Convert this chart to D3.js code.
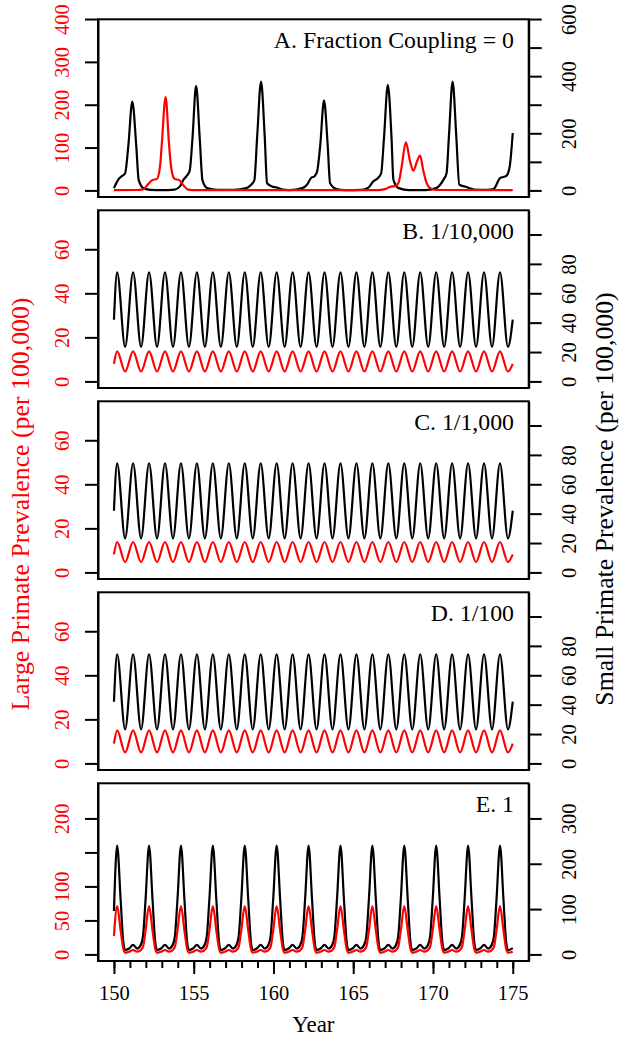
<!DOCTYPE html>
<html><head><meta charset="utf-8">
<script src="https://cdnjs.cloudflare.com/ajax/libs/d3/7.8.5/d3.min.js"></script>
<style>body{margin:0;background:#fff} svg text{font-family:"Liberation Serif","Times New Roman",serif}</style>
</head><body><svg id="c" width="619" height="1040"></svg>
<script>
// ---------- DATA ----------
const panelTitles = ["A. Fraction Coupling = 0", "B. 1/10,000", "C. 1/1,000", "D. 1/100", "E. 1"];
const leftYlimMax = [384, 74.7, 74.7, 74.7, 242];
const rightYlimMax = [576, 112, 112, 112, 363];
const leftTicks = [[0,100,200,300,400],[0,20,40,60],[0,20,40,60],[0,20,40,60],[0,50,100,150,200]];
const leftLabels = [[0,100,200,300,400],[0,20,40,60],[0,20,40,60],[0,20,40,60],[0,50,100,200]];
const rightTicks = [[0,100,200,300,400,500,600],[0,20,40,60,80,100],[0,20,40,60,80,100],[0,20,40,60,80,100],[0,100,200,300]];
const rightLabels = [[0,200,400,600],[0,20,40,60,80],[0,20,40,60,80],[0,20,40,60,80],[0,100,200,300]];
const xMajorTicks = [150,155,160,165,170,175];
const xMinorTicks = [150,151,152,153,154,155,156,157,158,159,160,161,162,163,164,165,166,167,168,169,170,171,172,173,174,175];

// Panel A: [year, prevalence]
const aSmall = [[150.0,8],[150.3,40],[150.5,50],[150.7,60],[150.9,155],[151.15,311],[151.4,155],[151.55,37],[151.85,8],[152.3,2],[153.0,1],[153.8,3],
 [154.15,15],[154.35,37],[154.55,50],[154.75,70],[154.92,180],[155.15,366],[155.38,180],[155.55,35],[155.85,8],[156.5,2],[157.5,2],
 [158.3,8],[158.6,20],[158.8,35],[158.98,190],[159.22,381],[159.45,190],[159.6,25],[159.9,14],[160.2,10],[160.5,4],[161.0,1],
 [161.8,8],[162.1,20],[162.35,43],[162.6,51],[162.75,70],[162.93,157],[163.17,315],[163.4,157],[163.55,25],[163.95,5],[164.5,1],[165.5,2],
 [165.95,10],[166.25,31],[166.55,43],[166.75,60],[166.93,185],[167.17,370],[167.4,185],[167.52,37],[167.85,8],[168.5,1],[169.5,1],
 [170.2,8],[170.45,20],[170.65,37],[170.85,60],[171.0,190],[171.23,381],[171.46,190],[171.65,20],[172.1,12],[172.6,3],[173.4,2],
 [173.8,5],[174.2,43],[174.6,51],[174.8,80],[175.0,201]];
const aLarge = [[150.0,0.5],[151.5,1],[151.85,3],[152.15,15],[152.4,24],[152.7,27],[152.9,60],[153.0,109],[153.24,218],[153.45,109],[153.6,50],
 [153.8,27],[154.1,24],[154.35,12],[154.65,2],[155.2,0.5],[166.5,0.5],[167.0,3],[167.35,9],[167.6,10],[167.83,17],[168.04,56],[168.3,113],
 [168.55,70],[168.77,46],[169.0,68],[169.19,81],[169.4,45],[169.6,17],[169.8,6],[170.2,1],[175.0,0.5]];

// Panels B-D: times of turning points
const sTime = [150.0,
 150.2,150.7,151.2,151.7,152.2,152.7,153.2,153.7,154.2,154.7,
 155.2,155.7,156.2,156.7,157.2,157.7,158.2,158.7,159.2,159.7,
 160.2,160.7,161.2,161.7,162.2,162.7,163.2,163.7,164.2,164.7,
 165.2,165.7,166.2,166.7,167.2,167.7,168.2,168.7,169.2,169.7,
 170.2,170.7,171.2,171.7,172.2,172.7,173.2,173.7,174.2,174.7,
 175.0];
const bSmall = [42,
 74.3,23.5,74.3,23.5,74.3,23.5,74.3,23.5,74.3,23.5,
 74.3,23.5,74.3,23.5,74.3,23.5,74.3,23.5,74.3,23.5,
 74.3,23.5,74.3,23.5,74.3,23.5,74.3,23.5,74.3,23.5,
 74.3,23.5,74.3,23.5,74.3,23.5,74.3,23.5,74.3,23.5,
 74.3,23.5,74.3,23.5,74.3,23.5,74.3,23.5,74.3,23.5,
 42];
const bLarge = [8,
 13.6,4.5,13.6,4.5,13.6,4.5,13.6,4.5,13.6,4.5,
 13.6,4.5,13.6,4.5,13.6,4.5,13.6,4.5,13.6,4.5,
 13.6,4.5,13.6,4.5,13.6,4.5,13.6,4.5,13.6,4.5,
 13.6,4.5,13.6,4.5,13.6,4.5,13.6,4.5,13.6,4.5,
 13.6,4.5,13.6,4.5,13.6,4.5,13.6,4.5,13.6,4.5,
 8];
const cSmall = [42,
 74.3,23.2,74.3,23.2,74.3,23.2,74.3,23.2,74.3,23.2,
 74.3,23.2,74.3,23.2,74.3,23.2,74.3,23.2,74.3,23.2,
 74.3,23.2,74.3,23.2,74.3,23.2,74.3,23.2,74.3,23.2,
 74.3,23.2,74.3,23.2,74.3,23.2,74.3,23.2,74.3,23.2,
 74.3,23.2,74.3,23.2,74.3,23.2,74.3,23.2,74.3,23.2,
 42];
const cLarge = [8.2,
 13.8,4.7,13.8,4.7,13.8,4.7,13.8,4.7,13.8,4.7,
 13.8,4.7,13.8,4.7,13.8,4.7,13.8,4.7,13.8,4.7,
 13.8,4.7,13.8,4.7,13.8,4.7,13.8,4.7,13.8,4.7,
 13.8,4.7,13.8,4.7,13.8,4.7,13.8,4.7,13.8,4.7,
 13.8,4.7,13.8,4.7,13.8,4.7,13.8,4.7,13.8,4.7,
 8.2];
const dSmall = [42,
 74.3,23.2,74.3,23.2,74.3,23.2,74.3,23.2,74.3,23.2,
 74.3,23.2,74.3,23.2,74.3,23.2,74.3,23.2,74.3,23.2,
 74.3,23.2,74.3,23.2,74.3,23.2,74.3,23.2,74.3,23.2,
 74.3,23.2,74.3,23.2,74.3,23.2,74.3,23.2,74.3,23.2,
 74.3,23.2,74.3,23.2,74.3,23.2,74.3,23.2,74.3,23.2,
 42];
const dLarge = [9,
 15,5,15,5,15,5,15,5,15,5,
 15,5,15,5,15,5,15,5,15,5,
 15,5,15,5,15,5,15,5,15,5,
 15,5,15,5,15,5,15,5,15,5,
 15,5,15,5,15,5,15,5,15,5,
 9];

// Panel E
const eTime = [150.0,
 150.2,150.42,150.58,150.7,150.95,151.2,151.45,151.67,151.82,151.98,
 152.2,152.42,152.58,152.7,152.95,153.2,153.45,153.67,153.82,153.98,
 154.2,154.42,154.58,154.7,154.95,155.2,155.45,155.67,155.82,155.98,
 156.2,156.42,156.58,156.7,156.95,157.2,157.45,157.67,157.82,157.98,
 158.2,158.42,158.58,158.7,158.95,159.2,159.45,159.67,159.82,159.98,
 160.2,160.42,160.58,160.7,160.95,161.2,161.45,161.67,161.82,161.98,
 162.2,162.42,162.58,162.7,162.95,163.2,163.45,163.67,163.82,163.98,
 164.2,164.42,164.58,164.7,164.95,165.2,165.45,165.67,165.82,165.98,
 166.2,166.42,166.58,166.7,166.95,167.2,167.45,167.67,167.82,167.98,
 168.2,168.42,168.58,168.7,168.95,169.2,169.45,169.67,169.82,169.98,
 170.2,170.42,170.58,170.7,170.95,171.2,171.45,171.67,171.82,171.98,
 172.2,172.42,172.58,172.7,172.95,173.2,173.45,173.67,173.82,173.98,
 174.2,174.42,174.58,174.7,175.0];
const eSmall = [95.6,
 240,120,30,9.5,13,21,13,20,40,120,
 240,120,30,9.5,13,21,13,20,40,120,
 240,120,30,9.5,13,21,13,20,40,120,
 240,120,30,9.5,13,21,13,20,40,120,
 240,120,30,9.5,13,21,13,20,40,120,
 240,120,30,9.5,13,21,13,20,40,120,
 240,120,30,9.5,13,21,13,20,40,120,
 240,120,30,9.5,13,21,13,20,40,120,
 240,120,30,9.5,13,21,13,20,40,120,
 240,120,30,9.5,13,21,13,20,40,120,
 240,120,30,9.5,13,21,13,20,40,120,
 240,120,30,9.5,13,21,13,20,40,120,
 240,120,30,9.5,14];
const eLarge = [27,
 71,35,9,2.5,4,6.5,4,6,11,35,
 71,35,9,2.5,4,6.5,4,6,11,35,
 71,35,9,2.5,4,6.5,4,6,11,35,
 71,35,9,2.5,4,6.5,4,6,11,35,
 71,35,9,2.5,4,6.5,4,6,11,35,
 71,35,9,2.5,4,6.5,4,6,11,35,
 71,35,9,2.5,4,6.5,4,6,11,35,
 71,35,9,2.5,4,6.5,4,6,11,35,
 71,35,9,2.5,4,6.5,4,6,11,35,
 71,35,9,2.5,4,6.5,4,6,11,35,
 71,35,9,2.5,4,6.5,4,6,11,35,
 71,35,9,2.5,4,6.5,4,6,11,35,
 71,35,9,2.5,4];

// ---------- BUILD ----------
const zip = (t, v) => t.map((d, i) => [d, v[i]]);
const smallSeries = [aSmall, zip(sTime, bSmall), zip(sTime, cSmall), zip(sTime, dSmall), zip(eTime, eSmall)];
const largeSeries = [aLarge, zip(sTime, bLarge), zip(sTime, cLarge), zip(sTime, dLarge), zip(eTime, eLarge)];

const svg = d3.select("#c");
const X0 = 98, X1 = 528.7;
const PANEL_TOP = 19.3, PANEL_PITCH = 191, PH = 177.7;
const RED = "#ff0000";
const x = d3.scaleLinear().domain([149, 176]).range([X0, X1]);

panelTitles.forEach((title, i) => {
  const top = PANEL_TOP + i * PANEL_PITCH, bot = top + PH;
  const lm = leftYlimMax[i], rm = rightYlimMax[i];
  const yL = d3.scaleLinear().domain([-0.04 * lm, 1.04 * lm]).range([bot, top]);
  const yR = d3.scaleLinear().domain([-0.04 * rm, 1.04 * rm]).range([bot, top]);
  const g = svg.append("g");

  g.append("path").datum(smallSeries[i])
    .attr("d", d3.line().x(d => x(d[0])).y(d => yR(d[1])).curve(d3.curveMonotoneX))
    .attr("fill", "none").attr("stroke", "#000").attr("stroke-width", 2.2);
  g.append("path").datum(largeSeries[i])
    .attr("d", d3.line().x(d => x(d[0])).y(d => yL(d[1])).curve(d3.curveMonotoneX))
    .attr("fill", "none").attr("stroke", RED).attr("stroke-width", 2.2);

  g.append("rect").attr("x", X0).attr("y", top).attr("width", X1 - X0).attr("height", PH)
    .attr("fill", "none").attr("stroke", "#000").attr("stroke-width", 2);

  const la = g.append("g").attr("transform", `translate(${X0},0)`)
    .call(d3.axisLeft(yL).tickValues(leftTicks[i]).tickSize(13).tickSizeOuter(0)
      .tickFormat(d => leftLabels[i].includes(d) ? d : ""));
  la.selectAll("line").attr("stroke-width", 2);
  la.select(".domain").attr("stroke-width", 2);
  la.selectAll("text").attr("transform", "rotate(-90)").attr("x", 0).attr("y", -29.5).attr("dy", 0)
    .attr("text-anchor", "middle").attr("fill", RED).style("font-size", "20.5px")
    .style("font-family", '"Liberation Serif", serif');

  const ra = g.append("g").attr("transform", `translate(${X1},0)`)
    .call(d3.axisRight(yR).tickValues(rightTicks[i]).tickSize(13).tickSizeOuter(0)
      .tickFormat(d => rightLabels[i].includes(d) ? d : ""));
  ra.selectAll("line").attr("stroke-width", 2);
  ra.select(".domain").attr("stroke-width", 2);
  ra.selectAll("text").attr("transform", "rotate(-90)").attr("x", 0).attr("y", 47.3).attr("dy", 0)
    .attr("text-anchor", "middle").attr("fill", "#000").style("font-size", "20.5px")
    .style("font-family", '"Liberation Serif", serif');

  g.append("text").attr("x", 514).attr("y", top + 29).attr("text-anchor", "end")
    .style("font-size", "23.8px").text(title);

  if (i === panelTitles.length - 1) {
    const xa = g.append("g").attr("transform", `translate(0,${bot})`)
      .call(d3.axisBottom(x).tickValues(xMinorTicks).tickSize(7).tickSizeOuter(0).tickFormat(""));
    xa.selectAll("line").attr("stroke-width", 2);
    xa.select(".domain").remove();
    const xb = g.append("g").attr("transform", `translate(0,${bot})`)
      .call(d3.axisBottom(x).tickValues(xMajorTicks).tickSize(13).tickSizeOuter(0).tickFormat(d3.format("d")));
    xb.selectAll("line").attr("stroke-width", 2);
    xb.select(".domain").remove();
    xb.selectAll("text").attr("y", 0).attr("dy", 0).attr("transform", "translate(0,39)")
      .attr("fill", "#000").style("font-size", "20.5px").style("font-family", '"Liberation Serif", serif');
  }
});

svg.append("text").attr("x", (X0 + X1) / 2).attr("y", 1032).attr("text-anchor", "middle")
  .style("font-size", "23px").text("Year");
svg.append("text").attr("transform", "translate(29,504) rotate(-90)").attr("text-anchor", "middle")
  .attr("fill", RED).style("font-size", "25.8px").text("Large Primate Prevalence (per 100,000)");
svg.append("text").attr("transform", "translate(613,499) rotate(-90)").attr("text-anchor", "middle")
  .attr("fill", "#000").style("font-size", "25.8px").text("Small Primate Prevalence (per 100,000)");
</script></body></html>
